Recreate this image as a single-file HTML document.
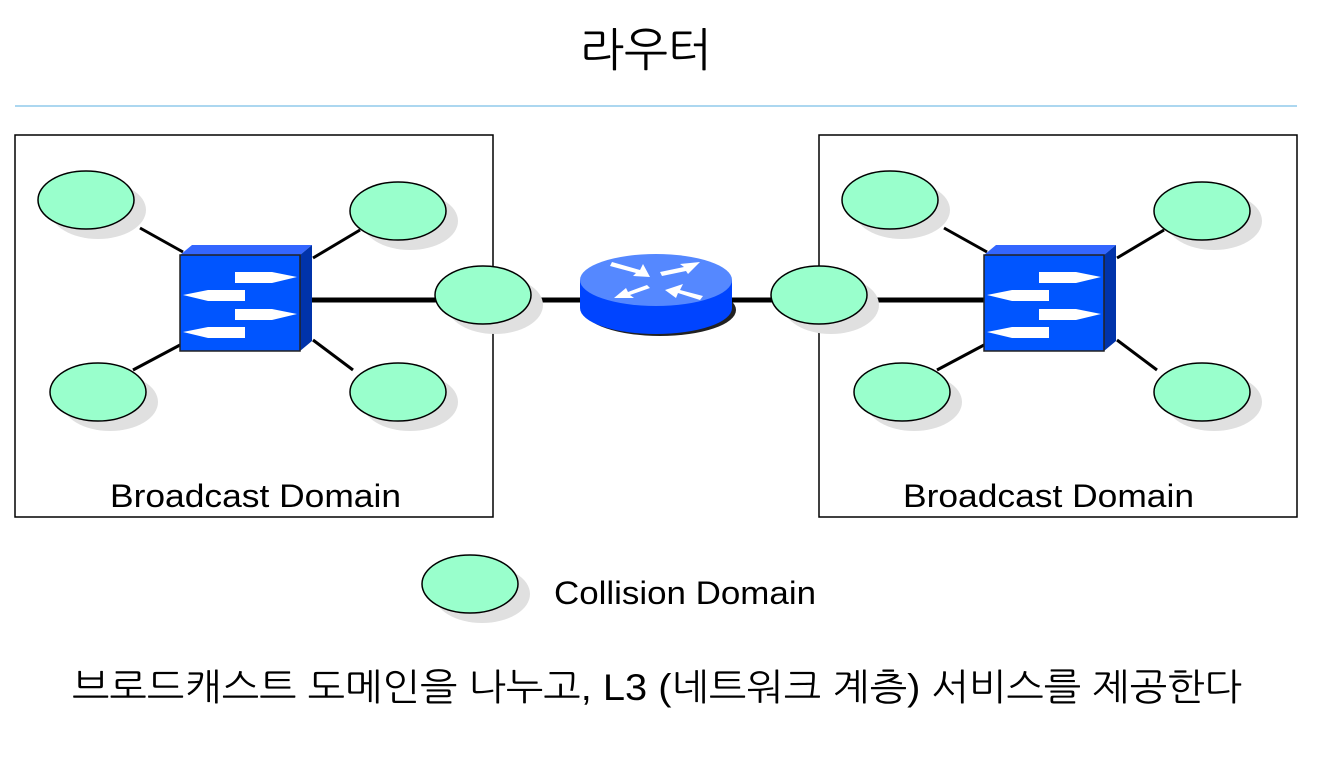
<!DOCTYPE html>
<html><head><meta charset="utf-8"><style>
body{margin:0;background:#fff;width:1321px;height:767px;overflow:hidden}
text{font-family:"Liberation Sans","NanumGothic","Noto Sans CJK KR",sans-serif;fill:#000}
</style></head><body>
<svg width="1321" height="767" viewBox="0 0 1321 767" xmlns="http://www.w3.org/2000/svg">
<defs>
<g id="node"><ellipse cx="12" cy="10" rx="48" ry="29" fill="#e0e0e0"/><ellipse cx="0" cy="0" rx="48" ry="29" fill="#99ffcc" stroke="#000" stroke-width="1.5"/></g>
<g id="sw">
<polygon points="0,10 12,0 132,0 120,10" fill="#3366ff"/>
<polygon points="120,10 132,0 132,96 120,106" fill="#0033aa"/>
<rect x="0" y="10" width="120" height="96" fill="#0055ff" stroke="#222" stroke-width="1.5"/>
<rect x="55" y="27" width="37" height="11" fill="#fff"/><polygon points="92,27 117,32 92,38" fill="#fff"/>
<rect x="28" y="45" width="37" height="11" fill="#fff"/><polygon points="28,45 3,50 28,56" fill="#fff"/>
<rect x="55" y="64" width="37" height="11" fill="#fff"/><polygon points="92,64 117,69 92,75" fill="#fff"/>
<rect x="28" y="82" width="37" height="11" fill="#fff"/><polygon points="28,82 3,87 28,93" fill="#fff"/>
</g>
<g id="side">
<g stroke="#000" stroke-width="3">
<line x1="140" y1="228" x2="183" y2="252"/><line x1="360" y1="230" x2="313" y2="258"/>
<line x1="133" y1="370" x2="180" y2="345"/><line x1="353" y1="370" x2="313" y2="340"/>
</g>
<use href="#node" x="86" y="200"/><use href="#node" x="398" y="211"/>
<use href="#node" x="98" y="392"/><use href="#node" x="398" y="392"/>
<use href="#sw" x="180" y="245"/>
</g>
</defs>
<text x="580" y="66" font-size="46" textLength="132" lengthAdjust="spacingAndGlyphs">라우터</text>
<line x1="15" y1="106" x2="1297" y2="106" stroke="#5aafe0" stroke-width="1"/>
<rect x="15" y="135" width="478" height="382" fill="none" stroke="#000" stroke-width="1.5"/>
<rect x="819" y="135" width="478" height="382" fill="none" stroke="#000" stroke-width="1.5"/>
<g stroke="#000" stroke-width="5">
<line x1="310" y1="300" x2="440" y2="300"/><line x1="528" y1="300" x2="585" y2="300"/>
<line x1="728" y1="300" x2="775" y2="300"/><line x1="864" y1="300" x2="990" y2="300"/>
</g>
<use href="#side"/>
<use href="#side" x="804"/>
<use href="#node" x="483" y="295"/>
<use href="#node" x="819" y="295"/>
<ellipse cx="660" cy="310" rx="76" ry="26" fill="#222"/>
<path d="M580,280 L580,308 A76,26 0 0 0 732,308 L732,280 Z" fill="#0044ff"/>
<ellipse cx="656" cy="280" rx="76" ry="26" fill="#5588ff"/>
<g fill="#fff">
<polygon points="612,262 640,270 643,264 650,277 633,276 636,273 610,266"/>
<polygon points="700,262 680,264 684,267 660,272 662,276 686,271 688,274"/>
<polygon points="614,298 634,298 630,295 650,288 647,285 628,292 626,288"/>
<polygon points="665,290 683,284 680,290 703,296 700,300 678,293 676,298"/>
</g>
<text x="110" y="507" font-size="32" textLength="291" lengthAdjust="spacingAndGlyphs">Broadcast Domain</text>
<text x="903" y="507" font-size="32" textLength="291" lengthAdjust="spacingAndGlyphs">Broadcast Domain</text>
<use href="#node" x="470" y="584"/>
<text x="554" y="604" font-size="32" textLength="262" lengthAdjust="spacingAndGlyphs">Collision Domain</text>
<text x="72" y="700" font-size="37" textLength="1170" lengthAdjust="spacingAndGlyphs">브로드캐스트 도메인을 나누고, L3 (네트워크 계층) 서비스를 제공한다</text>
</svg>
</body></html>
